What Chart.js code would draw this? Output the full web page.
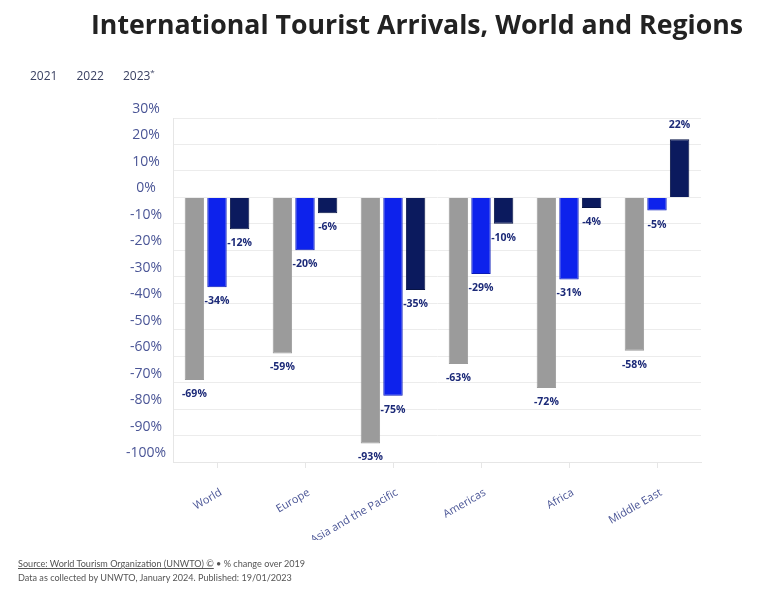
<!DOCTYPE html>
<html>
<head>
<meta charset="utf-8">
<script src="https://cdn.jsdelivr.net/npm/chart.js@4"></script>
<style>
  html, body { margin: 0; padding: 0; background: #fff; }
  #wrap { position: relative; width: 768px; height: 602px; overflow: hidden; font-family: "Open Sans", sans-serif; }
  #title { position: absolute; left: 0; width: 768px; padding-left: 66px; box-sizing: border-box; top: 5px; text-align: center;
           font-weight: 700; font-size: 26.7px; color: #222; white-space: nowrap; }
  #legend { position: absolute; left: 30px; top: 66px; font-size: 12px; color: #3a4162; }
  #legend span { margin-right: 19px; }
  #legend sup { font-size: 8px; }
  #foot { position: absolute; left: 18px; top: 557px; font-family: Lato, sans-serif; font-size: 9.1px; color: #555; line-height: 14px; }
  #foot u { text-decoration: underline; }
  canvas { position: absolute; left: 0; top: 0; }
</style>
</head>
<body>
<div id="wrap">
  <canvas id="c" width="768" height="602"></canvas>
  <div id="title">International Tourist Arrivals, World and Regions</div>
  <div id="legend"><span>2021</span><span>2022</span><span>2023<sup>*</sup></span></div>
  <div id="foot"><u>Source: World Tourism Organization (UNWTO) ©</u> • % change over 2019<br>Data as collected by UNWTO, January 2024. Published: 19/01/2023</div>
</div>
<script>
// ── data ────────────────────────────────────────────────────────────────────
var regions = ["World", "Europe", "Asia and the Pacific", "Americas", "Africa", "Middle East"];
var years = ["2021", "2022", "2023*"];
var v2021 = [-69, -59, -93, -63, -72, -58];
var v2022 = [-34, -20, -75, -29, -31, -5];
var v2023 = [-12, -6, -35, -10, -4, 22];
var yTicks = [30, 20, 10, 0, -10, -20, -30, -40, -50, -60, -70, -80, -90, -100];

var colors = ["#9b9b9b", "#0d22ec", "#0b1a5e"];
var borders = ["#9b9b9b", "#0a1ab8", "#081445"];
var labelColor = "#1c2a78";
var tickColor = "#4a5596";

// value labels above / below each bar
var valueLabels = {
  id: "valueLabels",
  afterDatasetsDraw: function (chart) {
    var ctx = chart.ctx;
    ctx.save();
    ctx.font = "bold 10.5px 'Open Sans', sans-serif";
    ctx.fillStyle = labelColor;
    ctx.textAlign = "center";
    ctx.textBaseline = "middle";
    chart.data.datasets.forEach(function (ds, i) {
      chart.getDatasetMeta(i).data.forEach(function (bar, j) {
        var v = ds.data[j];
        var y = v < 0 ? bar.y + 14 : bar.y - 14;
        ctx.fillText(v + "%", bar.x, y);
      });
    });
    ctx.restore();
  }
};

new Chart(document.getElementById("c"), {
  type: "bar",
  data: {
    labels: regions,
    datasets: [
      { label: years[0], data: v2021, backgroundColor: colors[0], borderColor: borders[0], borderWidth: 1 },
      { label: years[1], data: v2022, backgroundColor: colors[1], borderColor: borders[1], borderWidth: 1 },
      { label: years[2], data: v2023, backgroundColor: colors[2], borderColor: borders[2], borderWidth: 1 }
    ]
  },
  options: {
    responsive: false,
    animation: false,
    categoryPercentage: 0.77,
    barPercentage: 0.86,
    layout: { padding: { left: 120, right: 67, top: 118, bottom: 62 } },
    plugins: { legend: { display: false }, tooltip: { enabled: false } },
    scales: {
      x: {
        grid: { drawOnChartArea: false, offset: false, tickLength: 6, color: "#e6e6e6" },
        border: { color: "#e6e6e6" },
        ticks: { color: tickColor, font: { family: "Open Sans", size: 11 }, minRotation: 30, maxRotation: 30, padding: 18, labelOffset: 4 },
        afterFit: function (s) { s.height = 78; }
      },
      y: {
        min: -100, max: 30,
        afterBuildTicks: function (s) { s.ticks = yTicks.map(function (t) { return { value: t }; }); },
        grid: { color: "#ececec", drawTicks: false },
        border: { color: "#e6e6e6" },
        ticks: {
          color: tickColor, font: { family: "Open Sans", size: 14 }, crossAlign: "center", labelOffset: -9, padding: 7,
          callback: function (v) { return v + "%"; }
        },
        afterFit: function (s) { s.width = 53; }
      }
    }
  },
  plugins: [valueLabels]
});
</script>
</body>
</html>
